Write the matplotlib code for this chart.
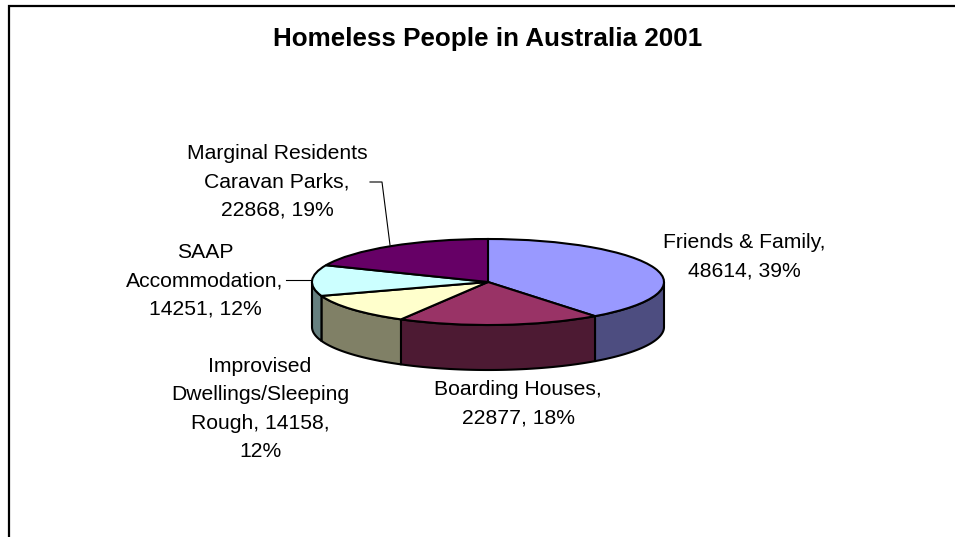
import numpy as np
from matplotlib import pyplot as plt

plt.rcParams['font.family'] = ['Liberation Sans', 'DejaVu Sans']

W, H = 955, 537
CX, CY = 488, 282       # pie centre, px
RX, RY = 176, 43        # top face radii, px
DEPTH = 45              # rim height, px
LW = 1.5

title = 'Homeless People in Australia 2001'
values = [48614, 22877, 14158, 14251, 22868]
percents = [39, 18, 12, 12, 19]
label_formats = [
    'Friends & Family,\n{}, {}%',
    'Boarding Houses,\n{}, {}%',
    'Improvised\nDwellings/Sleeping\nRough, {},\n{}%',
    'SAAP\nAccommodation,\n{}, {}%',
    'Marginal Residents\nCaravan Parks,\n{}, {}%',
]
label_pos = [(744, 257), (518, 404), (260, 409), (205, 281), (277, 182)]
top_colors = ['#9999FF', '#993366', '#FFFFCC', '#CCFFFF', '#660066']
side_colors = ['#4D4D80', '#4D1A33', '#808066', '#668080', '#330033']

fig = plt.figure(figsize=(W / 100, H / 100), dpi=100, facecolor='white')

# overlay in pixel coords for frame, text and leader lines
bg = fig.add_axes([0, 0, 1, 1])
bg.set_xlim(0, W)
bg.set_ylim(H, 0)
bg.axis('off')
bg.plot([9, 9, W], [H, 6, 6], color='black', lw=1.6, solid_joinstyle='miter')
bg.text(488, 39, title, fontsize=18.7, fontweight='bold', ha='center', va='center')
for fmt, v, p, pos in zip(label_formats, values, percents, label_pos):
    bg.text(pos[0], pos[1], fmt.format(v, p), fontsize=15.2, ha='center', va='center',
            linespacing=1.62, color='black')
bg.plot([370, 382, 390], [182, 182, 245], color='black', lw=0.8)
bg.plot([286, 312], [280, 280], color='black', lw=0.8)

# pie axes: unit circle stretched to the top-face ellipse
ax = fig.add_axes([0, 0, 1, 1])
ax.patch.set_alpha(0)
ax.axis('off')

# rim, only the front half (90..270 deg clockwise from the top) shows
d = DEPTH / RY
edges = np.cumsum([0] + values) / sum(values) * 360
for i in range(len(values)):
    a0, a1 = max(edges[i], 90), min(edges[i + 1], 270)
    if a0 >= a1:
        continue
    t = np.radians(np.linspace(a0, a1, 80))
    x, y = np.sin(t), np.cos(t)
    ax.fill(np.r_[x, x[::-1]], np.r_[y, y[::-1] - d], facecolor=side_colors[i],
            edgecolor='black', lw=LW, joinstyle='round')

ax.pie(values, colors=top_colors, startangle=90, counterclock=False, radius=1,
       wedgeprops={'edgecolor': 'black', 'linewidth': LW})

ax.set_aspect('auto')
ax.set_xlim(-CX / RX, (W - CX) / RX)
ax.set_ylim((CY - H) / RY, CY / RY)

fig.savefig('out.png', dpi=100)
